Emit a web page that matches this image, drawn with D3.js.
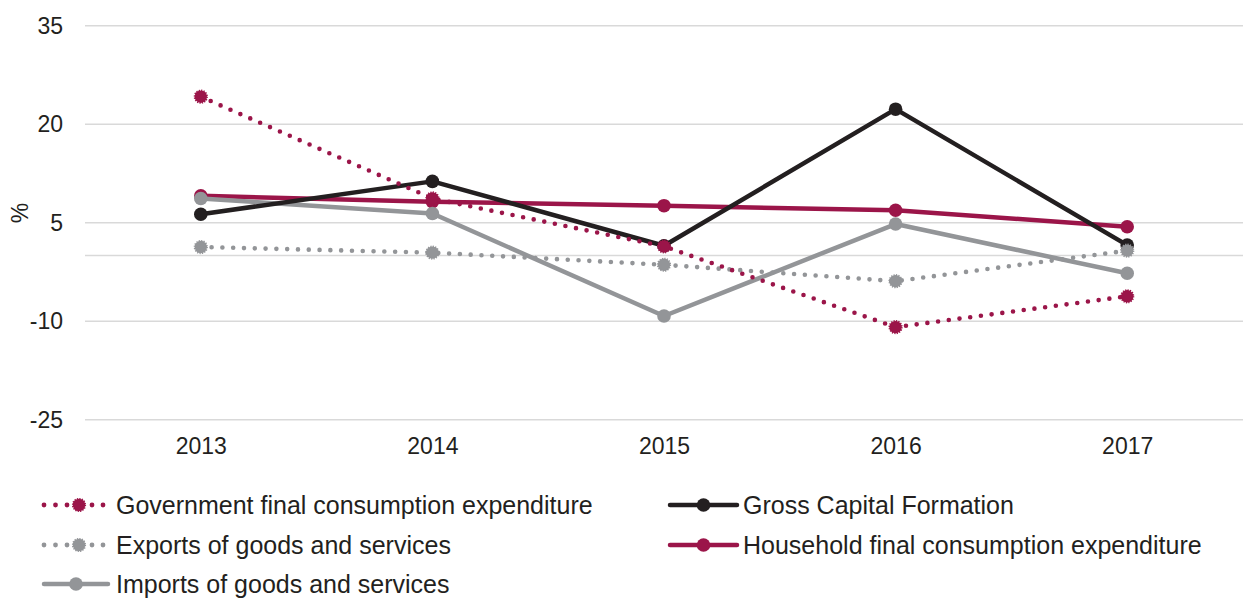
<!DOCTYPE html>
<html>
<head>
<meta charset="utf-8">
<script src="https://cdn.jsdelivr.net/npm/d3@7"></script>
<style>
  html, body { margin: 0; padding: 0; background: #fff; }
  svg { display: block; font-family: "Liberation Sans", Arial, sans-serif; }
</style>
</head>
<body>
<svg id="chart" width="1244" height="601"></svg>
<script>
// Annual growth of GDP expenditure components, %
const years = ["2013", "2014", "2015", "2016", "2017"];
const government = [24.2, 8.7, 1.4, -10.9, -6.2];
const capitalFormation = [6.3, 11.3, 1.5, 22.3, 1.6];
const exportsGS = [1.3, 0.45, -1.4, -3.9, 0.75];
const household = [9.1, 8.2, 7.6, 6.9, 4.4];
const importsGS = [8.7, 6.4, -9.2, 4.8, -2.7];
const yTicks = [35, 20, 5, -10, -25];

const series = [
  { name: "Household final consumption expenditure", values: household, color: "#9b1549", dotted: false, col: 1, row: 1 },
  { name: "Imports of goods and services", values: importsGS, color: "#939598", dotted: false, col: 0, row: 2 },
  { name: "Gross Capital Formation", values: capitalFormation, color: "#231f20", dotted: false, col: 1, row: 0 },
  { name: "Exports of goods and services", values: exportsGS, color: "#939598", dotted: true, col: 0, row: 1 },
  { name: "Government final consumption expenditure", values: government, color: "#9b1549", dotted: true, col: 0, row: 0 }
];

const svg = d3.select("#chart");

const x = d3.scalePoint().domain(years).range([85, 1243]).padding(0.5);
const y = d3.scaleLinear().domain([-25, 35]).range([419.7, 25.8]);

// Horizontal gridlines (tick values plus the zero line)
svg.append("g")
  .selectAll("line")
  .data(yTicks.concat([0]))
  .join("line")
  .attr("x1", 85).attr("x2", 1243)
  .attr("y1", d => y(d)).attr("y2", d => y(d))
  .attr("stroke", "#d9d9d9").attr("stroke-width", 1.5);

// Y axis labels (plain hyphen for negatives)
const yAxis = svg.append("g")
  .attr("transform", "translate(63,0)")
  .call(d3.axisLeft(y).tickValues(yTicks).tickFormat(d => String(d)).tickSize(0).tickPadding(0));
yAxis.select(".domain").remove();
yAxis.selectAll("text")
  .attr("font-size", 23).attr("fill", "#231f20")
  .attr("font-family", "'Liberation Sans', Arial, sans-serif");

svg.append("text")
  .attr("transform", "translate(28,213) rotate(-90)")
  .attr("text-anchor", "middle")
  .attr("font-size", 23).attr("fill", "#231f20")
  .text("%");

// X axis labels
const xAxis = svg.append("g")
  .attr("transform", "translate(0,438)")
  .call(d3.axisBottom(x).tickSize(0).tickPadding(0));
xAxis.select(".domain").remove();
xAxis.selectAll("text")
  .attr("font-size", 23).attr("fill", "#231f20")
  .attr("font-family", "'Liberation Sans', Arial, sans-serif");

const line = d3.line().x((d, i) => x(years[i])).y(d => y(d));

function drawMarker(g, cx, cy, s, r) {
  if (s.dotted) {
    g.append("circle")
      .attr("cx", cx).attr("cy", cy).attr("r", r - 0.6)
      .attr("fill", s.color)
      .attr("stroke", s.color).attr("stroke-width", 1.8)
      .attr("stroke-dasharray", "1.2 1.2");
  } else {
    g.append("circle")
      .attr("cx", cx).attr("cy", cy).attr("r", r)
      .attr("fill", s.color);
  }
}

// Series lines and markers
series.forEach(s => {
  const g = svg.append("g");
  g.append("path")
    .datum(s.values)
    .attr("d", line)
    .attr("fill", "none")
    .attr("stroke", s.color)
    .attr("stroke-width", s.dotted ? 4.6 : 4.5)
    .attr("stroke-linecap", "round")
    .attr("stroke-linejoin", "round")
    .attr("stroke-dasharray", s.dotted ? "0 10.8" : null);
  s.values.forEach((v, i) => drawMarker(g, x(years[i]), y(v), s, 6.8));
});

// Legend
const legendOrder = ["Government final consumption expenditure", "Gross Capital Formation",
  "Exports of goods and services", "Household final consumption expenditure",
  "Imports of goods and services"];
const colX = [{ x0: 44, x1: 108, tx: 116 }, { x0: 670, x1: 737, tx: 743 }];
const rowY = [505, 545, 584];

legendOrder.forEach(name => {
  const s = series.find(d => d.name === name);
  const c = colX[s.col];
  const cy = rowY[s.row];
  const g = svg.append("g");
  const mid = (c.x0 + c.x1) / 2;
  if (s.dotted) {
    [0, 11.5, 23, 48, 59].forEach(dx => {
      g.append("circle").attr("cx", c.x0 + dx).attr("cy", cy).attr("r", 2.4).attr("fill", s.color);
    });
    drawMarker(g, c.x0 + 35, cy, s, 6.8);
  } else {
    g.append("line")
      .attr("x1", c.x0).attr("x2", c.x1)
      .attr("y1", cy).attr("y2", cy)
      .attr("stroke", s.color).attr("stroke-width", 4.5)
      .attr("stroke-linecap", "round");
    drawMarker(g, mid, cy, s, 6.8);
  }
  g.append("text")
    .attr("x", c.tx).attr("y", cy)
    .attr("dy", "0.35em")
    .attr("font-size", 25).attr("fill", "#231f20")
    .text(s.name);
});
</script>
</body>
</html>
